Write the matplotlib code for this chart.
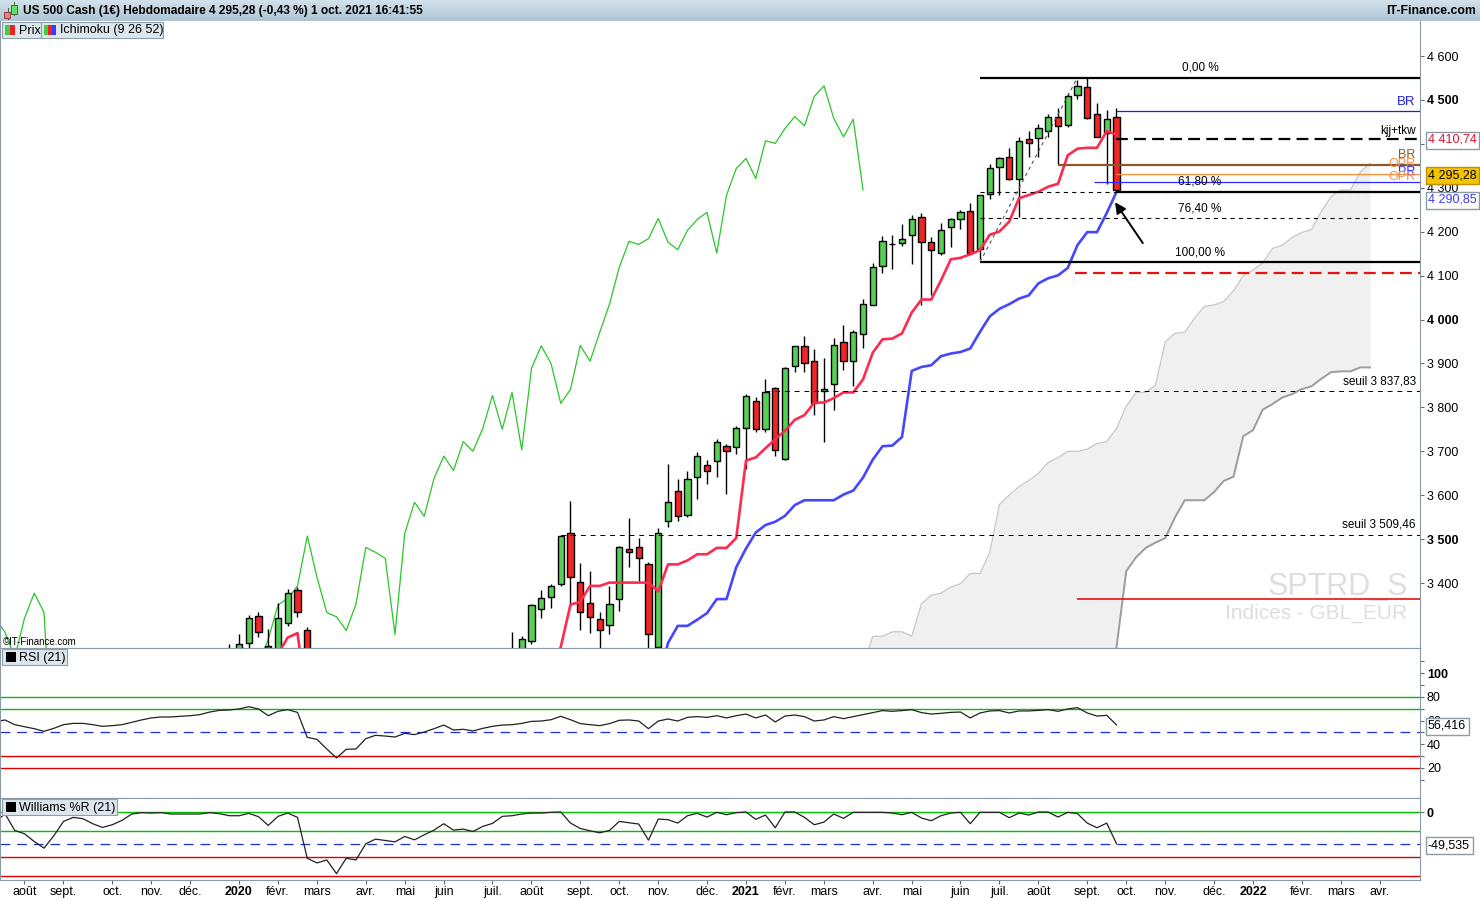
import matplotlib
matplotlib.use('Agg')
import matplotlib.pyplot as plt
from matplotlib.patches import Rectangle
import numpy as np
import pandas as pd

plt.rcParams['font.family'] = ['Liberation Sans', 'DejaVu Sans']
plt.rcParams['lines.scale_dashes'] = False

W, H = 1480, 900

# weekly bars, first bar = week of 15 July 2019
first_week = '2019-07-15'

opens = [3013, 2976, 3025, 2932, 2918, 2888, 2847, 2926, 2978, 3007,
         2992, 2961, 2952, 2970, 2986, 3023, 3067, 3093, 3120, 3110,
         3141, 3146, 3169, 3221, 3240, 3235, 3263, 3325, 3257, 3250,
         3308, 3384, 3294, 2954, 2860, 2600, 2305, 2541, 2489, 2790,
         2875, 2837, 2831, 2930, 2864, 2955, 3044, 3194, 3041, 3098,
         3009, 3130, 3185, 3225, 3216, 3268, 3340, 3369, 3398, 3513,
         3402, 3355, 3317, 3305, 3363, 3477, 3481, 3443, 3255, 3541,
         3610, 3556, 3641, 3668, 3677, 3711, 3709, 3752, 3814, 3750,
         3845, 3682, 3894, 3940, 3905, 3838, 3853, 3948, 3905, 3966,
         4034, 4122, 4173, 4175, 4192, 4233, 4176, 4151, 4210, 4228,
         4247, 4160, 4285, 4347, 4369, 4319, 4410, 4413, 4429, 4462,
         4442, 4511, 4530, 4469, 4424, 4460]
highs = [3018, 3028, 3029, 2945, 2943, 2939, 2940, 2985, 3021, 3022,
         3002, 2983, 2993, 3002, 3027, 3067, 3098, 3121, 3127, 3154,
         3150, 3183, 3231, 3248, 3261, 3283, 3327, 3333, 3295, 3354,
         3386, 3390, 3300, 3137, 2882, 2660, 2640, 2643, 2819, 2880,
         2880, 2955, 2935, 2955, 2980, 3068, 3211, 3233, 3155, 3155,
         3165, 3198, 3240, 3289, 3279, 3352, 3384, 3398, 3509, 3587,
         3445, 3428, 3334, 3393, 3485, 3547, 3503, 3447, 3525, 3670,
         3636, 3655, 3698, 3680, 3727, 3716, 3757, 3830, 3823, 3864,
         3847, 3891, 3940, 3962, 3934, 3912, 3957, 3988, 3976, 4047,
         4129, 4190, 4193, 4217, 4238, 4242, 4187, 4219, 4232, 4249,
         4265, 4284, 4354, 4369, 4390, 4415, 4430, 4445, 4468, 4481,
         4515, 4545, 4549, 4494, 4476, 4481]
lows = [2966, 2969, 2914, 2822, 2836, 2834, 2836, 2891, 2966, 2985,
        2946, 2855, 2892, 2953, 2976, 3020, 3066, 3078, 3091, 3108,
        3070, 3124, 3166, 3219, 3182, 3214, 3246, 3278, 3210, 3230,
        3303, 3323, 2855, 2900, 2478, 2280, 2175, 2447, 2460, 2725,
        2727, 2815, 2797, 2767, 2857, 2955, 3032, 2935, 2965, 3004,
        3000, 3115, 3127, 3200, 3200, 3262, 3321, 3344, 3394, 3346,
        3292, 3287, 3215, 3285, 3337, 3436, 3405, 3233, 3248, 3528,
        3542, 3550, 3591, 3625, 3641, 3603, 3693, 3660, 3744, 3745,
        3689, 3680, 3881, 3881, 3783, 3720, 3794, 3884, 3849, 3936,
        4033, 4107, 4115, 4168, 4126, 4032, 4056, 4146, 4164, 4205,
        4149, 4137, 4274, 4284, 4318, 4233, 4369, 4371, 4416, 4352,
        4439, 4501, 4456, 4415, 4309, 4293]
closes = [2976, 3025, 2932, 2918, 2888, 2847, 2926, 2978, 3007, 2992,
          2961, 2952, 2970, 2986, 3023, 3067, 3093, 3120, 3110, 3141,
          3146, 3169, 3221, 3240, 3235, 3261, 3320, 3288, 3230, 3320,
          3377, 3333, 2954, 2972, 2711, 2305, 2541, 2489, 2790, 2875,
          2837, 2831, 2930, 2864, 2955, 3044, 3194, 3041, 3098, 3009,
          3130, 3185, 3225, 3216, 3272, 3350, 3365, 3393, 3507, 3413,
          3333, 3323, 3292, 3352, 3481, 3470, 3456, 3283, 3513, 3584,
          3552, 3638, 3689, 3656, 3722, 3700, 3752, 3827, 3750, 3834,
          3703, 3889, 3940, 3900, 3809, 3841, 3941, 3905, 3971, 4035,
          4119, 4178, 4171, 4184, 4230, 4176, 4159, 4203, 4228, 4244,
          4151, 4283, 4344, 4367, 4321, 4407, 4401, 4435, 4462, 4441,
          4508, 4532, 4458, 4416, 4456, 4295.28]

rsi_values = [58.9, 60.6, 56.6, 54.9, 53.2, 51.0, 53.5, 56.6, 57.7, 57.7,
              56.6, 55.2, 55.8, 56.6, 58.6, 60.6, 62.3, 63.1, 63.1, 63.7,
              64.2, 65.1, 67.3, 68.7, 69.0, 69.9, 71.8, 69.9, 64.2, 67.9,
              69.3, 67.0, 45.9, 44.2, 36.1, 28.5, 35.8, 36.1, 44.8, 47.6,
              47.0, 46.2, 49.3, 48.2, 50.4, 53.2, 56.3, 52.1, 52.7, 51.3,
              53.5, 55.2, 56.3, 56.6, 57.7, 59.4, 59.7, 60.8, 63.7, 60.8,
              57.5, 56.6, 55.8, 57.5, 60.3, 60.6, 59.7, 53.2, 59.7, 61.4,
              59.7, 62.8, 63.4, 62.8, 64.2, 62.3, 64.2, 65.6, 62.3, 64.8,
              58.9, 63.9, 64.8, 63.4, 59.7, 60.6, 63.4, 61.7, 63.4, 65.1,
              66.8, 68.5, 67.9, 68.5, 69.3, 66.8, 65.6, 66.2, 67.0, 67.3,
              62.3, 66.5, 68.2, 68.5, 66.5, 68.2, 68.2, 68.7, 69.3, 67.9,
              69.9, 71.0, 66.5, 63.9, 64.5, 56.416]
willr_values = [-16.0, -2.6, -28.8, -34.0, -46.1, -56.5, -37.2, -14.7, -8.4, -10.5,
                -18.3, -24.1, -19.9, -13.1, -3.1, -1.0, -1.6, -1.0, -3.1, -3.1,
                -3.1, -3.1, -1.0, -2.6, -5.8, -5.8, -2.1, -7.3, -20.9, -6.8,
                -1.6, -8.4, -72.3, -79.6, -74.9, -96.3, -72.3, -74.9, -49.7, -42.4,
                -44.5, -46.6, -38.2, -43.5, -35.6, -28.3, -18.3, -28.3, -26.7, -30.4,
                -22.5, -17.8, -6.8, -5.8, -3.1, -1.6, -1.6, -0.5, 0.0, -17.3,
                -25.7, -29.3, -32.5, -28.8, -14.7, -16.8, -18.8, -44.0, -11.0, -12.0,
                -17.3, -5.8, -2.1, -7.9, -0.5, -4.2, -1.0, 0.0, -11.5, -4.7,
                -24.6, 0.0, 0.0, -8.4, -19.9, -15.7, -3.1, -9.9, -0.5, -0.5,
                -0.5, -0.5, -1.6, -4.2, -0.5, -9.4, -13.6, -5.8, -1.6, -0.5,
                -18.3, -0.5, -0.5, -0.5, -8.9, -1.6, -4.7, 0.0, 0.0, -7.9,
                -0.5, -2.6, -17.3, -24.6, -17.3, -49.535]

# fibonacci retracement drawn on the chart
fib_top, fib_bottom = 4551, 4131
fib_ratios = [0.0, 0.618, 0.764, 1.0]
fib_labels = ['0,00 %', '61,80 %', '76,40 %', '100,00 %']
fib_start, fib_peak = 101, 111

# horizontal user levels: level, first week, colour, width, dashes
user_levels = [
    (4474, 115, '#1f1fe0', 0.9, None),
    (4410.74, 115, 'black', 1.6, (8.5, 4.5)),
    (4352, 109, '#8b5a2b', 1.6, None),
    (4331, 115, '#ff8c3c', 0.9, None),
    (4312, 112.7, '#2a2aff', 0.9, None),
    (4291, 115, 'black', 1.6, None),
    (4105, 110.7, '#e81010', 1.6, (8.5, 4.5)),
    (3364, 110.9, '#e81010', 1.2, None),
    (3837.83, 79, 'black', 0.7, (3.5, 3.5)),
    (3509.46, 58, 'black', 0.7, (3.5, 3.5)),
]
# tags written near the right edge: text, level, vertical offset (pt), colour, size
level_tags = [
    ('BR', 4474, 6.8, '#1f1fe0', 9.5),
    ('kjj+tkw', 4410.74, 6.0, 'black', 8.5),
    ('BR', 4352, 7.0, '#8b5a2b', 9),
    ('OPR', 4331, 7.6, '#ff8c3c', 9),
    ('PR', 4312, 7.6, '#2a2aff', 9),
    ('OPR', 4331, -2.4, '#ff8c3c', 9),
    ('seuil 3 837,83', 3837.83, 6.5, 'black', 8.5),
    ('seuil 3 509,46', 3509.46, 7.2, 'black', 8.5),
]

months_fr = ['janv.', 'févr.', 'mars', 'avr.', 'mai', 'juin', 'juil.',
             'août', 'sept.', 'oct.', 'nov.', 'déc.']

# ---------------------------------------------------------------- indicators
df = pd.DataFrame({'open': opens, 'high': highs, 'low': lows, 'close': closes})
n = len(df)
idx = np.arange(n)
tenkan = (df['high'].rolling(9).max() + df['low'].rolling(9).min()) / 2
kijun = (df['high'].rolling(26).max() + df['low'].rolling(26).min()) / 2
span_a = (tenkan + kijun) / 2
span_b = (df['high'].rolling(52).max() + df['low'].rolling(52).min()) / 2
shift = 26

# ---------------------------------------------------------------- layout
fig = plt.figure(figsize=(W / 100, H / 100), dpi=100)
fig.patch.set_facecolor('white')


def rect(x0, y0, x1, y1):
    return [x0 / W, 1 - y1 / H, (x1 - x0) / W, (y1 - y0) / H]


def fpatch(x, y, w, h, **kw):
    fig.patches.append(Rectangle((x / W, 1 - (y + h) / H), w / W, h / H,
                                 transform=fig.transFigure, **kw))


def ftext(x, y, s, **kw):
    return fig.text(x / W, 1 - y / H, s, **kw)


frame = '#8a9aa6'
x_left, x_right = 4.75 / 9.75, 1424.75 / 9.75

# header band
hax = fig.add_axes(rect(0, 0, W, 21))
grad = np.linspace(0, 1, 50).reshape(-1, 1)
hax.imshow(grad, aspect='auto', cmap=matplotlib.colors.LinearSegmentedColormap.from_list(
    'hdr', ['#d3e1ea', '#aec4d3']), extent=[0, 1, 0, 1])
hax.set_axis_off()

# ---------------------------------------------------------------- price panel
ax = fig.add_axes(rect(0, 21, 1420, 648))
ax.set_xlim(x_left, x_right)
ax.set_ylim(3252.1, 4679.7)

xa = idx + shift
ax.fill_between(xa, span_a, span_b, color='#f0f0f0', lw=0, zorder=1)
ax.plot(xa, span_a, color='#c6c6c6', lw=0.9, zorder=1.2)
ax.plot(xa, span_b, color='#9c9c9c', lw=1.4, zorder=1.2)

ax.plot(idx - shift, df['close'], color='#2ac62a', lw=0.9, zorder=2)

o = df['open'].values
c = df['close'].values
up = c >= o
mid = (o + c) / 2
body_h = np.maximum(np.abs(c - o), 1.5)
body_lo = mid - body_h / 2
ax.vlines(idx, df['low'], df['high'], color='black', lw=1.0, zorder=3)
ax.bar(idx[up], body_h[up], bottom=body_lo[up], width=0.62, color='#55d055',
       edgecolor='black', linewidth=1.0, zorder=3.5)
ax.bar(idx[~up], body_h[~up], bottom=body_lo[~up], width=0.62, color='#f02626',
       edgecolor='black', linewidth=1.0, zorder=3.5)

ax.plot(idx, tenkan, color='#ff2a4f', lw=1.9, zorder=4, solid_capstyle='round')
ax.plot(idx, kijun, color='#4646ff', lw=1.9, zorder=4, solid_capstyle='round')

# fibonacci
for r, lab in zip(fib_ratios, fib_labels):
    lvl = fib_top - r * (fib_top - fib_bottom)
    if r in (0.0, 1.0):
        ax.hlines(lvl, fib_start, x_right, color='black', lw=1.6, zorder=5)
    else:
        ax.hlines(lvl, fib_start, x_right, color='black', lw=0.8,
                  linestyles=(0, (3, 3)), zorder=5)
    ax.annotate(lab, xy=((fib_start + x_right) / 2, lvl), xytext=(0, 7),
                textcoords='offset points', ha='center', va='center',
                fontsize=8.5, zorder=6)
ax.plot([fib_start, fib_peak], [fib_bottom, fib_top], color='#555555', lw=0.8,
        dashes=(2.5, 2.5), zorder=5)

for lvl, start, col, lw, dash in user_levels:
    if dash is None:
        ax.hlines(lvl, start, x_right, color=col, lw=lw, zorder=5)
    else:
        ax.hlines(lvl, start, x_right, color=col, lw=lw,
                  linestyles=(0, dash), zorder=5)
for txt, lvl, dy, col, fs in level_tags:
    ax.annotate(txt, xy=(x_right, lvl), xytext=(-3, dy), textcoords='offset points',
                ha='right', va='center', color=col, fontsize=fs, zorder=6)

ax.annotate('', xy=(114.85, 4267), xytext=(117.7, 4174),
            arrowprops=dict(arrowstyle='-|>', color='black', lw=1.4,
                            mutation_scale=16, shrinkA=0, shrinkB=0), zorder=7)

ax.text(0.9423, 0.097, 'SPTRD_S', transform=ax.transAxes, ha='center', va='center',
        fontsize=22, color='#dedede', zorder=0.5)
ax.text(0.9268, 0.056, 'Indices - GBL_EUR', transform=ax.transAxes, ha='center',
        va='center', fontsize=15, color='#dedede', zorder=0.5)

ax.yaxis.tick_right()
ticks = list(range(3400, 4601, 100))
ax.set_yticks(ticks)
# the 4 400 label sits under the tenkan value tag, as in the source chart
ax.set_yticklabels(['' if t == 4400 else f'{t // 1000} {t % 1000:03d}' for t in ticks])
for t, lab in zip(ticks, ax.get_yticklabels()):
    if t % 500 == 0:
        lab.set_fontweight('bold')
ax.set_xticks([])
ax.tick_params(axis='y', direction='out', length=3, width=0.8, color='#5a6a76',
               labelsize=9, pad=2)
for side, sp in ax.spines.items():
    sp.set_color(frame)
ax.spines['top'].set_visible(False)

# ---------------------------------------------------------------- RSI panel
ax_rsi = fig.add_axes(rect(0, 648, 1420, 798))
ax_rsi.set_xlim(x_left, x_right)
ax_rsi.set_ylim(-5.35, 121.4)
for lvl, col in [(80, '#00c000'), (70, '#00c000'), (30, '#e00000'), (20, '#e00000')]:
    ax_rsi.axhline(lvl, color=col, lw=1.0)
ax_rsi.axhline(50, color='#1c2ee6', lw=0.9, dashes=(7, 5))
ax_rsi.plot(idx, rsi_values, color='#222222', lw=0.9)
ax_rsi.yaxis.tick_right()
ax_rsi.set_yticks([20, 40, 60, 80, 100])
ax_rsi.set_yticklabels(['20', '40', '60', '80', '100'])
ax_rsi.get_yticklabels()[-1].set_fontweight('bold')
ax_rsi.set_yticks(range(10, 120, 10), minor=True)
ax_rsi.set_xticks([])
ax_rsi.tick_params(axis='y', which='both', direction='out', length=3, width=0.8,
                   color='#5a6a76', labelsize=9, pad=2)
for sp in ax_rsi.spines.values():
    sp.set_color(frame)

# ---------------------------------------------------------------- Williams %R panel
ax_wr = fig.add_axes(rect(0, 798, 1420, 880))
ax_wr.set_xlim(x_left, x_right)
ax_wr.set_ylim(-106.25, 21.9)
for lvl, col in [(0, '#00c000'), (-30, '#00c000'), (-70, '#e00000'), (-100, '#e00000')]:
    ax_wr.axhline(lvl, color=col, lw=1.0)
ax_wr.axhline(-50, color='#1c2ee6', lw=0.9, dashes=(7, 5))
ax_wr.plot(idx, willr_values, color='#222222', lw=0.9)
ax_wr.yaxis.tick_right()
ax_wr.set_yticks([0])
ax_wr.set_yticklabels(['0'], fontweight='bold')
ax_wr.tick_params(axis='y', direction='out', length=3, width=0.8, color='#5a6a76',
                  labelsize=9, pad=2)
for sp in ax_wr.spines.values():
    sp.set_color(frame)

weeks = pd.date_range(first_week, periods=150, freq='W-MON')
tick_pos, tick_lab = [], []
seen = set()
for k, d in enumerate(weeks):
    key = (d.year, d.month)
    if key in seen or d < pd.Timestamp('2019-08-01') or d > pd.Timestamp('2022-04-30'):
        continue
    seen.add(key)
    tick_pos.append(k)
    tick_lab.append(str(d.year) if d.month == 1 else months_fr[d.month - 1])
ax_wr.set_xticks(tick_pos)
ax_wr.set_xticklabels(tick_lab)
for lab in ax_wr.get_xticklabels():
    if lab.get_text().isdigit():
        lab.set_fontweight('bold')
ax_wr.tick_params(axis='x', direction='out', length=3, width=0.8, color='#5a6a76',
                  labelsize=9, pad=1.5)

# ---------------------------------------------------------------- texts & boxes
ftext(23, 11, 'US 500 Cash (1€) Hebdomadaire 4 295,28 (-0,43 %) 1 oct. 2021 16:41:55',
      fontsize=8.6, fontweight='bold', va='center', ha='left')
ftext(1476, 11, 'IT-Finance.com', fontsize=8.8, fontweight='bold', va='center', ha='right')
# header candle icon
fpatch(7.5, 8, 1, 12, facecolor='#4a6a40', edgecolor='none')
fpatch(4, 12, 6, 6, facecolor='#f08080', edgecolor='#803030', lw=0.6)
fpatch(14, 2, 1, 14, facecolor='#4a6a40', edgecolor='none')
fpatch(11, 5, 6, 9, facecolor='#60e060', edgecolor='#306030', lw=0.6)

box_fc, box_ec = '#dde6ed', '#8fa0ad'
fpatch(2, 22, 39, 16, facecolor=box_fc, edgecolor=box_ec, lw=0.8)
fpatch(5, 25, 5, 10, facecolor='#44cc44', edgecolor='none')
fpatch(10, 25, 5, 10, facecolor='#ee2222', edgecolor='none')
ftext(19, 30.5, 'Prix', fontsize=9, va='center')
fpatch(41, 22, 122, 16, facecolor=box_fc, edgecolor=box_ec, lw=0.8)
fpatch(44, 25, 4, 10, facecolor='#44cc44', edgecolor='none')
fpatch(48, 25, 4, 10, facecolor='#ee2222', edgecolor='none')
fpatch(52, 25, 4, 10, facecolor='#3a3aff', edgecolor='none')
ftext(60, 30.5, 'Ichimoku (9 26 52)', fontsize=9, va='center')

fpatch(2, 649, 65, 16, facecolor=box_fc, edgecolor=box_ec, lw=0.8)
fpatch(6, 652, 10, 10, facecolor='black', edgecolor='none')
ftext(19, 657.5, 'RSI (21)', fontsize=9, va='center')
fpatch(2, 799, 115, 16, facecolor=box_fc, edgecolor=box_ec, lw=0.8)
fpatch(6, 802, 10, 10, facecolor='black', edgecolor='none')
ftext(19, 807.5, 'Williams %R (21)', fontsize=9, va='center')

ftext(3, 642, '©IT-Finance.com', fontsize=7, va='center')

tag_box = dict(boxstyle='square,pad=0.2', fc='white', ec=frame, lw=1)
ftext(1428, 140, '4 410,74', fontsize=9, color='#e01030', va='center', bbox=tag_box)
ftext(1428, 175, '4 295,28', fontsize=9, color='black', va='center',
      bbox=dict(boxstyle='square,pad=0.2', fc='#f5c400', ec='#c09000', lw=1))
ftext(1428, 200, '4 290,85', fontsize=9, color='#3a3aff', va='center', bbox=tag_box)
ftext(1428, 726, '56,416', fontsize=9, color='black', va='center', bbox=tag_box)
ftext(1428, 845, '-49,535', fontsize=9, color='black', va='center', bbox=tag_box)

fig.savefig('out.png', dpi=100, facecolor='white')
